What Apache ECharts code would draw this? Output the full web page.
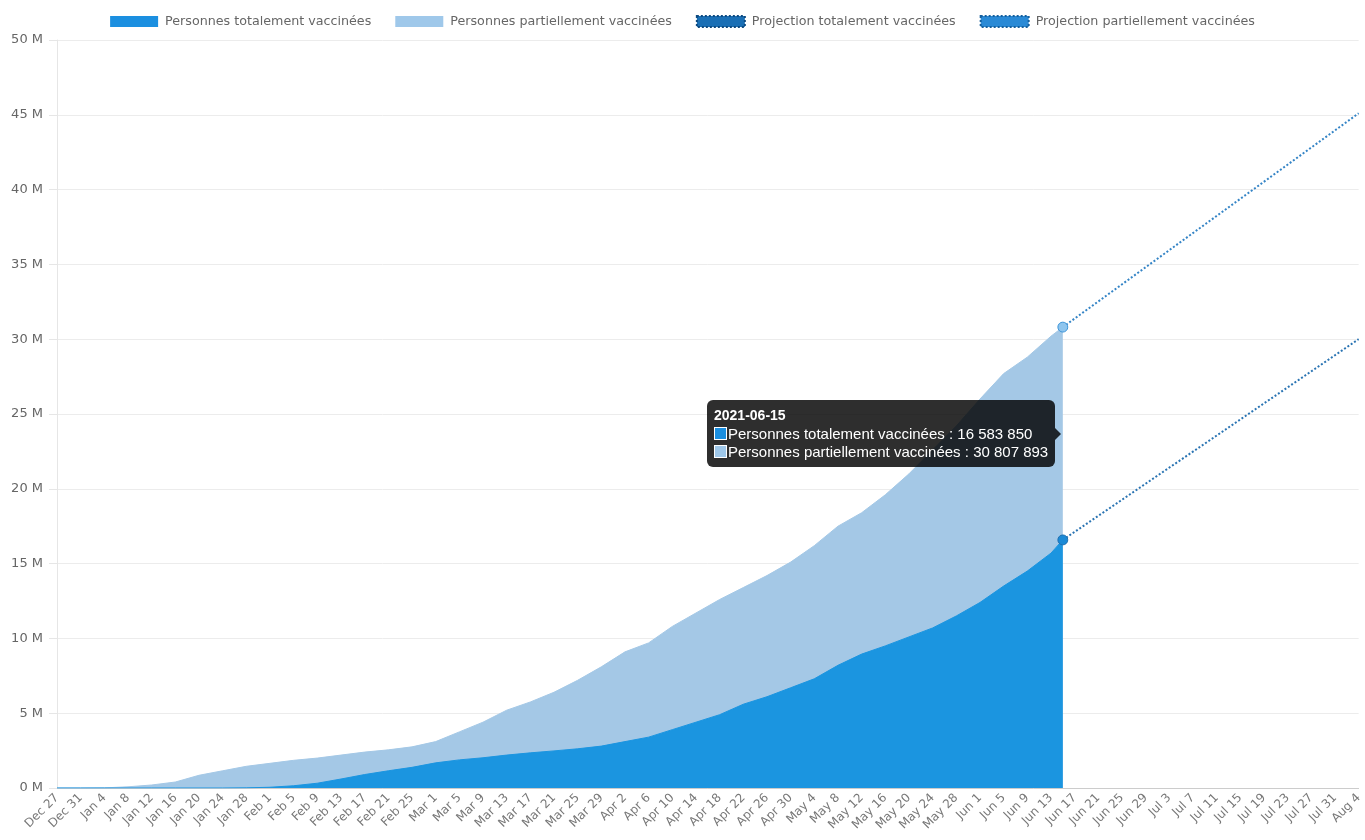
<!DOCTYPE html>
<html>
<head>
<meta charset="utf-8">
<script src="https://cdn.jsdelivr.net/npm/echarts@6/dist/echarts.min.js"></script>
<style>
  html, body { margin: 0; padding: 0; background: #fff; }
  #chart { width: 1365px; height: 840px; }
</style>
</head>
<body>
<div id="chart"></div>
<script>
// axis runs day by day, labels every 4 days
const startDate = '2020-12-27'
const endDate = '2021-08-04'
const monthNames = ['Jan', 'Feb', 'Mar', 'Apr', 'May', 'Jun', 'Jul', 'Aug', 'Sep', 'Oct', 'Nov', 'Dec']

// values (millions), at these dates
const sampleDates = [
  '2020-12-27', '2020-12-31', '2021-01-04', '2021-01-08', '2021-01-12', '2021-01-16',
  '2021-01-20', '2021-01-24', '2021-01-28', '2021-02-01', '2021-02-05', '2021-02-09',
  '2021-02-13', '2021-02-17', '2021-02-21', '2021-02-25', '2021-03-01', '2021-03-05',
  '2021-03-09', '2021-03-13', '2021-03-17', '2021-03-21', '2021-03-25', '2021-03-29',
  '2021-04-02', '2021-04-06', '2021-04-10', '2021-04-14', '2021-04-18', '2021-04-22',
  '2021-04-26', '2021-04-30', '2021-05-04', '2021-05-08', '2021-05-12', '2021-05-16',
  '2021-05-20', '2021-05-24', '2021-05-28', '2021-06-01', '2021-06-05', '2021-06-09',
  '2021-06-13', '2021-06-15'
]
const totalement = [
  0, 0, 0, 0, 0, 0,
  0, 0, 0.01, 0.05, 0.15, 0.32,
  0.6, 0.9, 1.15, 1.38, 1.68, 1.88,
  2.02, 2.2, 2.35, 2.48, 2.62, 2.8,
  3.1, 3.4, 3.9, 4.4, 4.9, 5.6,
  6.1, 6.7, 7.3, 8.2, 8.95, 9.5,
  10.1, 10.7, 11.5, 12.4, 13.5, 14.5,
  15.7, 16.58385
]
const partiellement = [
  0, 0, 0.01, 0.08, 0.2, 0.4,
  0.85, 1.15, 1.45, 1.65, 1.85, 2.0,
  2.2, 2.4, 2.55, 2.75, 3.1, 3.75,
  4.4, 5.2, 5.75, 6.4, 7.2, 8.1,
  9.1, 9.7, 10.8, 11.7, 12.6, 13.4,
  14.2, 15.1, 16.2, 17.5, 18.4, 19.6,
  21.0, 22.6, 24.2, 26.0, 27.7, 28.8,
  30.2, 30.807893
]

// projections: straight line from last known day to end of axis
const projDates = ['2021-06-15', '2021-08-04']
const projTotalement = [16.58385, 30.0]
const projPartiellement = [30.807893, 45.1]

const yTicks = [0, 5, 10, 15, 20, 25, 30, 35, 40, 45, 50]

function dayList(a, b) {
  const out = []
  let d = new Date(a + 'T00:00:00Z')
  const end = new Date(b + 'T00:00:00Z')
  while (d <= end) {
    out.push(d.toISOString().slice(0, 10))
    d = new Date(d.getTime() + 86400000)
  }
  return out
}
const days = dayList(startDate, endDate)

function placeOnDays(dates, vals) {
  const arr = days.map(() => null)
  dates.forEach((d, i) => { arr[days.indexOf(d)] = vals[i] })
  return arr
}

const lastIdx = days.indexOf('2021-06-15')

function fmtNum(m) {
  return String(Math.round(m * 1e6)).replace(/\B(?=(\d{3})+(?!\d))/g, ' ')
}

const chart = echarts.init(document.getElementById('chart'))
const font = 'DejaVu Sans'
const tipFont = "'Liberation Sans', Arial, sans-serif"

const option = {
  animation: false,
  backgroundColor: '#fff',
  textStyle: { fontFamily: font },
  legend: {
    top: 10,
    left: 'center',
    itemWidth: 48,
    itemHeight: 11,
    itemGap: 24,
    textStyle: { color: '#666', fontSize: 12.7, fontFamily: font, padding: [0, 0, 0, 2] },
    data: [
      { name: 'Personnes totalement vaccinées', icon: 'rect', itemStyle: { color: '#1b8fe0' } },
      { name: 'Personnes partiellement vaccinées', icon: 'rect', itemStyle: { color: '#9fc8ea' } },
      { name: 'Projection totalement vaccinées', icon: 'rect', itemStyle: { color: '#1a6fb5', borderColor: '#0e4a80', borderWidth: 2, borderType: 'dotted' } },
      { name: 'Projection partiellement vaccinées', icon: 'rect', itemStyle: { color: '#2a8ad6', borderColor: '#16609e', borderWidth: 2, borderType: 'dotted' } }
    ]
  },
  grid: { left: 57, right: 3, top: 40, bottom: 52, containLabel: false },
  tooltip: {
    trigger: 'axis',
    alwaysShowContent: true,
    transitionDuration: 0,
    axisPointer: { type: 'none' },
    backgroundColor: 'rgba(0,0,0,0.82)',
    borderWidth: 0,
    padding: [6, 7],
    textStyle: { color: '#fff' },
    extraCssText: 'border-radius:6px;box-shadow:none;',
    position(pt, params, dom, rect, size) {
      const p1 = chart.convertToPixel({ gridIndex: 0 }, [lastIdx, totalement[totalement.length - 1]])
      const p2 = chart.convertToPixel({ gridIndex: 0 }, [lastIdx, partiellement[partiellement.length - 1]])
      const midY = (p1[1] + p2[1]) / 2
      return [p1[0] - size.contentSize[0] - 8, midY - size.contentSize[1] / 2]
    },
    formatter() {
      const box = c => '<span style="display:inline-block;width:11px;height:11px;background:' + c + ';border:1px solid #fff;margin-right:1px;vertical-align:-1px"></span>'
      const arrow = '<div style="position:absolute;right:-6px;top:50%;margin-top:-6px;width:0;height:0;border-top:6px solid transparent;border-bottom:6px solid transparent;border-left:6px solid rgba(0,0,0,0.82)"></div>'
      return arrow +
        '<div style="font-family:' + tipFont + ';font-size:14px;font-weight:bold;color:#fff;line-height:19px">' + days[lastIdx] + '</div>' +
        '<div style="font-family:' + tipFont + ';font-size:15px;color:#fff;line-height:18px">' + box('#1b8fe0') + 'Personnes totalement vaccinées : ' + fmtNum(totalement[totalement.length - 1]) + '</div>' +
        '<div style="font-family:' + tipFont + ';font-size:15px;color:#fff;line-height:18px">' + box('#9fc8ea') + 'Personnes partiellement vaccinées : ' + fmtNum(partiellement[partiellement.length - 1]) + '</div>'
    }
  },
  xAxis: {
    type: 'category',
    boundaryGap: false,
    data: days,
    axisLine: { lineStyle: { color: '#ccc' } },
    axisTick: { show: false },
    splitLine: { show: false },
    axisLabel: {
      interval: 3,
      rotate: 45,
      color: '#777',
      fontSize: 12,
      fontFamily: font,
      margin: 8,
      formatter(value) {
        const d = new Date(value + 'T00:00:00Z')
        return monthNames[d.getUTCMonth()] + ' ' + d.getUTCDate()
      }
    }
  },
  yAxis: {
    type: 'value',
    min: yTicks[0],
    max: yTicks[yTicks.length - 1],
    interval: 5,
    axisLine: { show: true, lineStyle: { color: '#e6e6e6' } },
    axisTick: { show: true, length: 8, lineStyle: { color: '#e6e6e6' } },
    splitLine: { lineStyle: { color: '#ececec' } },
    axisLabel: {
      color: '#666',
      fontSize: 13,
      fontFamily: font,
      margin: 14,
      formatter: v => v + ' M'
    }
  },
  series: [
    {
      name: 'Personnes totalement vaccinées',
      type: 'line',
      z: 4,
      data: placeOnDays(sampleDates, totalement),
      connectNulls: true,
      showSymbol: false,
      color: '#1b95e0',
      emphasis: { disabled: true },
      lineStyle: { width: 1, color: '#1b95e0' },
      areaStyle: { color: '#1b95e0', opacity: 1 }
    },
    {
      name: 'Personnes partiellement vaccinées',
      type: 'line',
      z: 3,
      data: placeOnDays(sampleDates, partiellement),
      connectNulls: true,
      showSymbol: false,
      color: '#a4c8e6',
      emphasis: { disabled: true },
      lineStyle: { width: 1, color: '#a4c8e6' },
      areaStyle: { color: '#a4c8e6', opacity: 1 }
    },
    {
      name: 'Projection totalement vaccinées',
      type: 'line',
      z: 5,
      data: placeOnDays(projDates, projTotalement),
      connectNulls: true,
      showSymbol: true,
      symbol: 'circle',
      symbolSize: (v, p) => p.dataIndex === lastIdx ? 9 : 0,
      emphasis: { disabled: true },
      itemStyle: { color: '#1b8ad6', borderColor: '#1f6fb0', borderWidth: 1 },
      lineStyle: { color: '#2a74b3', width: 2, type: 'dotted' }
    },
    {
      name: 'Projection partiellement vaccinées',
      type: 'line',
      z: 5,
      data: placeOnDays(projDates, projPartiellement),
      connectNulls: true,
      showSymbol: true,
      symbol: 'circle',
      symbolSize: (v, p) => p.dataIndex === lastIdx ? 9 : 0,
      emphasis: { disabled: true },
      itemStyle: { color: '#8ec5ee', borderColor: '#3d95d8', borderWidth: 1 },
      lineStyle: { color: '#3484c6', width: 2, type: 'dotted' }
    }
  ]
}

chart.setOption(option)
chart.dispatchAction({ type: 'showTip', seriesIndex: 0, dataIndex: lastIdx })
</script>
</body>
</html>
